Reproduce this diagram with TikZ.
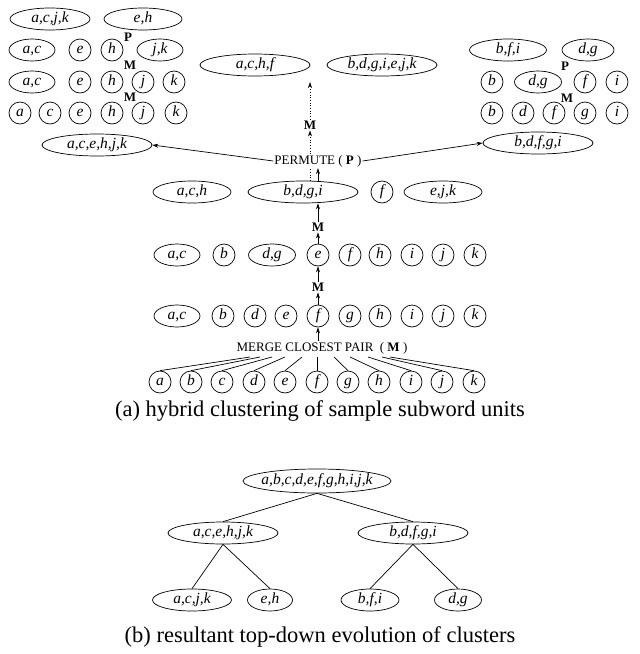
\documentclass[tikz,border=0pt]{standalone}
\usepackage{fontspec}
\setmainfont{Liberation Serif}
\usetikzlibrary{shapes.geometric,arrows.meta}
\begin{document}
\begin{tikzpicture}[x=1pt,y=-1pt,
  lw/.style={line width=0.7pt},
  lbl/.style={font=\fontsize{15.5}{16}\selectfont\itshape, inner sep=0pt, text height=10pt, text depth=3pt},
  cl/.style={lbl, draw, lw, circle, minimum size=22pt},
  el/.style={lbl, draw, lw, ellipse, minimum height=22pt, minimum width=#1},
  op/.style={font=\fontsize{13}{14}\selectfont\bfseries, inner sep=1pt},
  optxt/.style={font=\fontsize{13}{14}\selectfont, inner sep=1pt},
  capt/.style={font=\fontsize{22.5}{26}\selectfont, inner sep=0pt},
  arr/.style={lw, -{Stealth[length=6pt,width=4pt]}}
]
\useasboundingbox (0,0) rectangle (640,654);

% ---------- left cluster ----------
\node[el=80] (tlacjk) at (50,19) {a,c,j,k};
\node[el=78] (tleh) at (143,19) {e,h};
\node[op] (tlP) at (128,37) {P};
\node[el=46] (l3ac) at (32,50) {a,c};
\node[cl] (l3e) at (80,50) {e};
\node[cl] (l3h) at (112,50) {h};
\node[el=46] (l3jk) at (160,50) {j,k};
\node[op] (tlM1) at (130,65) {M};
\node[el=46] (l2ac) at (32,82) {a,c};
\node[cl] (l2e) at (80,82) {e};
\node[cl] (l2h) at (112,82) {h};
\node[cl] (l2j) at (143,82) {j};
\node[cl] (l2k) at (174,82) {k};
\node[op] (tlM2) at (130,97) {M};
\node[cl] (l1a) at (20,113) {a};
\node[cl] (l1c) at (50,113) {c};
\node[cl] (l1e) at (80,113) {e};
\node[cl] (l1h) at (112,113) {h};
\node[cl] (l1j) at (143,113) {j};
\node[cl] (l1k) at (176,113) {k};

% ---------- right cluster ----------
\node[el=77] (trbfi) at (508,50) {b,f,i};
\node[el=52] (trdg) at (588,50) {d,g};
\node[op] (trP) at (565,66) {P};
\node[cl] (r2b) at (492,82) {b};
\node[el=47] (r2dg) at (538,82) {d,g};
\node[cl] (r2f) at (585,82) {f};
\node[cl] (r2i) at (617,82) {i};
\node[op] (trM) at (567,98) {M};
\node[cl] (r1b) at (492,113) {b};
\node[cl] (r1d) at (523,113) {d};
\node[cl] (r1f) at (554,113) {f};
\node[cl] (r1g) at (585,113) {g};
\node[cl] (r1i) at (617,113) {i};

% ---------- middle ----------
\node[el=110] (acfh) at (255,65) {a,c,h,f};
\node[el=110] (bdgiejk) at (382,65) {b,d,g,i,e,j,k};
\coordinate (acfhtip) at (310,82);
\node[op] (M3) at (310,125) {M};
\node[el=110] (acehjk) at (97,145) {a,c,e,h,j,k};
\node[el=110] (bdfgi) at (538,143) {b,d,f,g,i};
\node[optxt] (perm) at (318,161) {PERMUTE ( \textbf{P} )};

\node[el=78] (ach) at (192,192) {a,c,h};
\node[el=110] (bdgi) at (303,192) {b,d,g,i};
\node[cl] (f4) at (382,192) {f};
\node[el=78] (ejk) at (443,192) {e,j,k};
\node[op] (M2) at (318,227) {M};

\node[el=46] (ac3) at (177,255) {a,c};
\node[cl] (b3) at (224,255) {b};
\node[el=47] (dg3) at (272,255) {d,g};
\node[cl] (e3) at (318,255) {e};
\node[cl] (f3) at (350,255) {f};
\node[cl] (h3) at (380,255) {h};
\node[cl] (i3) at (412,255) {i};
\node[cl] (j3) at (443,255) {j};
\node[cl] (k3) at (475,255) {k};
\node[op] (M1) at (318,287) {M};

\node[el=46] (ac2) at (177,316) {a,c};
\node[cl] (b2) at (223,316) {b};
\node[cl] (d2) at (255,316) {d};
\node[cl] (e2) at (286,316) {e};
\node[cl] (f2) at (318,316) {f};
\node[cl] (g2) at (350,316) {g};
\node[cl] (h2) at (380,316) {h};
\node[cl] (i2) at (412,316) {i};
\node[cl] (j2) at (443,316) {j};
\node[cl] (k2) at (475,316) {k};

\node[optxt] (merge) at (322,348) {MERGE CLOSEST PAIR \ ( \textbf{M} )};

\foreach \n/\x in {a/160,b/191,c/222,d/254,e/285,f/317,g/348,h/379,i/411,j/442,k/474}
  \node[cl] (\n1) at (\x,382) {\n};
\foreach \n/\x in {a/250,b/260,c/272,d/285,e/302,f/317,g/334,h/350,i/368,j/382,k/390}
  \coordinate (m\n) at (\x,357);
\foreach \n in {a,b,c,d,e,f,g,h,i,j,k}
  \draw[lw] (\n1.north) -- (m\n);

% vertical arrows
\draw[arr] (merge.north -| f2.south) -- (f2.south);
\draw[arr] (f2.north) -- (M1.south);
\draw[arr] (M1.north) -- (e3.south);
\draw[arr] (e3.north) -- (M2.south);
\draw[arr] (M2.north) -- (M2.north |- bdgi.south);
\draw[arr] (perm.south |- bdgi.north) -- (perm.south);
\draw[lw, dotted] (M3.south |- bdgi.north) -- (M3.south |- perm.south);
\draw[arr, dotted] (M3.south |- perm.north) -- (M3.south);
\draw[arr, dotted] (M3.north) -- (acfhtip);
\draw[arr] (perm.west) -- (acehjk.east);
\draw[arr] (perm.east) -- (bdfgi.west);

\node[capt] (capa) at (320,411) {(a) hybrid clustering of sample subword units};

% ---------- part (b) ----------
\node[el=148, minimum height=24pt, inner xsep=-9pt] (root) at (317,481) {a,b,c,d,e,f,g,h,i,j,k};
\node[el=110] (bl) at (223,533) {a,c,e,h,j,k};
\node[el=110] (br) at (413,533) {b,d,f,g,i};
\node[el=79] (bacjk) at (192,600) {a,c,j,k};
\node[el=45] (beh) at (270,600) {e,h};
\node[el=58] (bbfi) at (370,600) {b,f,i};
\node[el=47] (bdg) at (458,600) {d,g};
\draw[lw] (root.south) -- (bl.north);
\draw[lw] (root.south) -- (br.north);
\draw[lw] (bl.south) -- (bacjk.north);
\draw[lw] (bl.south) -- (beh.north);
\draw[lw] (br.south) -- (bbfi.north);
\draw[lw] (br.south) -- (bdg.north);

\node[capt] (capb) at (320,637) {(b) resultant top-down evolution of clusters};
\end{tikzpicture}
\end{document}
